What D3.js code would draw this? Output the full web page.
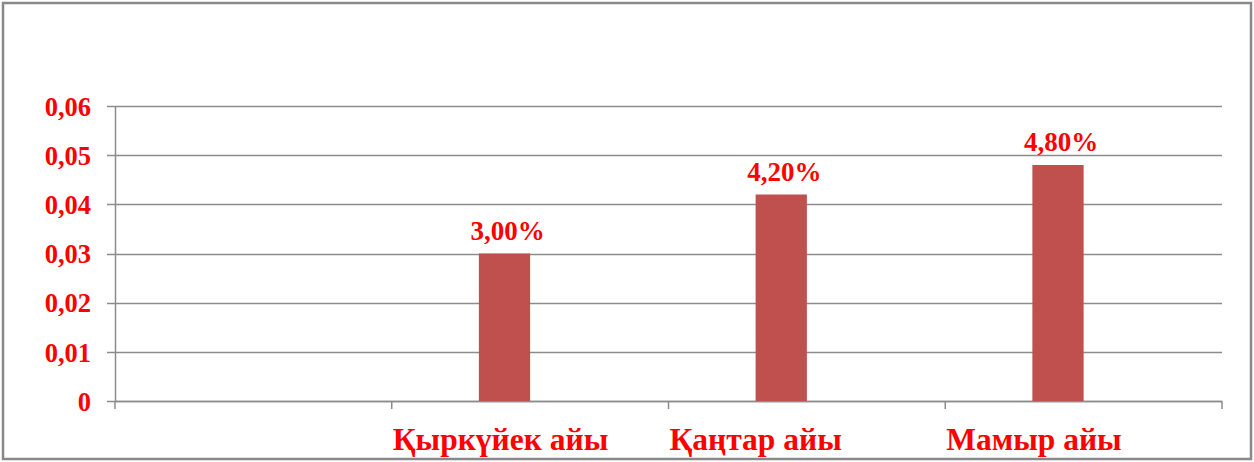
<!DOCTYPE html>
<html><head><meta charset="utf-8">
<script src="https://cdn.jsdelivr.net/npm/d3@7"></script>
<style>body{margin:0;background:#fff}svg{display:block}</style>
</head><body>
<script>
const categories = ["", "Қыркүйек айы", "Қаңтар айы", "Мамыр айы"];
const seriesKeys = ["s1", "s2"];
const values = [null, 0.03, 0.042, 0.048];
const valueLabels = ["", "3,00%", "4,20%", "4,80%"];
const yTicks = [0, 0.01, 0.02, 0.03, 0.04, 0.05, 0.06];

const W = 1254, H = 462;
const svg = d3.select("body").append("svg").attr("width", W).attr("height", H);
svg.append("rect").attr("x", 3).attr("y", 3).attr("width", 1248).attr("height", 456)
  .attr("fill", "#fff").attr("stroke", "#898989").attr("stroke-width", 2.5);

const x = d3.scaleBand().domain(categories).range([115, 1222]).padding(0);
const xs = d3.scaleBand().domain(seriesKeys).range([0, x.bandwidth()]).paddingOuter(1.7).paddingInner(0);
const y = d3.scaleLinear().domain([0, 0.06]).range([401, 106]);
const font = "'Liberation Serif','Times New Roman',serif";
const red = "#ff0000", grid = "#8c8c8c";

// gridlines
svg.append("g").selectAll("line").data(yTicks).join("line")
  .attr("x1", 107).attr("x2", 1222).attr("y1", d => Math.round(y(d)) + 0.5).attr("y2", d => Math.round(y(d)) + 0.5)
  .attr("stroke", grid).attr("stroke-width", 1.5);

// y axis
const yAxis = svg.append("g").attr("transform", "translate(115,0)")
  .call(d3.axisLeft(y).tickValues(yTicks).tickSize(0).tickPadding(24)
    .tickFormat(d => d === 0 ? "0" : d3.format(".2f")(d).replace(".", ",")));
yAxis.select(".domain").attr("stroke", grid).attr("stroke-width", 1.5);
yAxis.selectAll("text").attr("fill", red).attr("font-family", font).attr("font-weight", "bold")
  .attr("font-size", 26.5).attr("dy", "0.35em");

// x axis
const xAxis = svg.append("g").attr("transform", "translate(0,401)");
xAxis.append("line").attr("x1", 115).attr("x2", 1222).attr("y1", 0.5).attr("y2", 0.5)
  .attr("stroke", grid).attr("stroke-width", 1.5);
const tickXs = categories.map(c => x(c)).concat([x(categories[categories.length - 1]) + x.bandwidth()]);
xAxis.selectAll("line.tk").data(tickXs).join("line").attr("class", "tk")
  .attr("x1", d => d).attr("x2", d => d).attr("y1", 0).attr("y2", 8)
  .attr("stroke", grid).attr("stroke-width", 1.5);
xAxis.selectAll("text").data(categories).join("text")
  .attr("x", d => x(d) + 1).attr("y", 49)
  .attr("fill", red).attr("font-family", font).attr("font-weight", "bold").attr("font-size", 31.5)
  .text(d => d);

// bars
const bx = (c) => x(c) + xs("s1");
svg.append("g").selectAll("rect").data(categories.filter((c, i) => values[i] != null)).join("rect")
  .attr("x", c => bx(c)).attr("width", xs.bandwidth())
  .attr("y", c => y(values[categories.indexOf(c)]))
  .attr("height", c => y(0) - y(values[categories.indexOf(c)]))
  .attr("fill", "#c0504d");

// value labels
svg.append("g").selectAll("text").data(categories.filter((c, i) => values[i] != null)).join("text")
  .attr("x", c => bx(c) + xs.bandwidth() / 2 + 3)
  .attr("y", c => y(values[categories.indexOf(c)]) - 14)
  .attr("text-anchor", "middle")
  .attr("fill", red).attr("font-family", font).attr("font-weight", "bold").attr("font-size", 27)
  .text(c => valueLabels[categories.indexOf(c)]);
</script>
</body></html>
